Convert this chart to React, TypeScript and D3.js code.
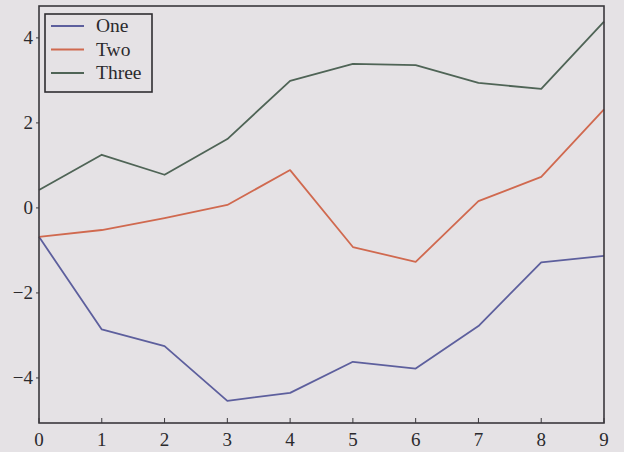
import React from "react";
import * as d3 from "d3";

// Line series, one value per x step (0..9)
const xValues = [0, 1, 2, 3, 4, 5, 6, 7, 8, 9];
const seriesNames = ["One", "Two", "Three"];
const one = [-0.68, -2.86, -3.25, -4.54, -4.35, -3.62, -3.78, -2.78, -1.28, -1.13];
const two = [-0.68, -0.52, -0.24, 0.07, 0.89, -0.92, -1.27, 0.16, 0.73, 2.32];
const three = [0.42, 1.25, 0.78, 1.62, 2.99, 3.39, 3.36, 2.94, 2.8, 4.38];
const seriesColors = ["#5d5f9d", "#d0694f", "#4f6456"];
const xTicks = [0, 1, 2, 3, 4, 5, 6, 7, 8, 9];
const yTicks = [-4, -2, 0, 2, 4];
const yDomain = [-5.06, 4.75];

const W = 624;
const H = 452;
const margin = { left: 39, right: 20, top: 6, bottom: 29 };

export default function App() {
  const x = d3.scaleLinear().domain([0, 9]).range([margin.left, W - margin.right]);
  const y = d3.scaleLinear().domain(yDomain).range([H - margin.bottom, margin.top]);
  const data = [one, two, three];
  const line = d3
    .line<number>()
    .x((_, i) => x(xValues[i]))
    .y((d) => y(d));

  const font = "'Liberation Serif', 'DejaVu Serif', serif";
  const axisColor = "#3a383c";
  const textColor = "#2b2a2d";
  const x0 = x.range()[0];
  const x1 = x.range()[1];
  const yb = y.range()[0];
  const yt = y.range()[1];

  return (
    <svg
      width={W}
      height={H}
      style={{ position: "absolute", left: 0, top: 0, background: "#e5e2e5" }}
    >
      <rect x={0} y={0} width={W} height={H} fill="#e5e2e5" />
      {data.map((d, k) => (
        <path
          key={seriesNames[k]}
          d={line(d) ?? ""}
          fill="none"
          stroke={seriesColors[k]}
          strokeWidth={1.8}
          strokeLinejoin="round"
        />
      ))}
      {/* frame */}
      <rect
        x={x0}
        y={yt}
        width={x1 - x0}
        height={yb - yt}
        fill="none"
        stroke={axisColor}
        strokeWidth={1.6}
      />
      {/* x axis ticks and labels */}
      {xTicks.map((t) => (
        <g key={"x" + t}>
          <line x1={x(t)} x2={x(t)} y1={yb} y2={yb - 5} stroke={axisColor} strokeWidth={1} />
          <text
            x={x(t)}
            y={yb + 23}
            textAnchor="middle"
            fontFamily={font}
            fontSize={19}
            fill={textColor}
          >
            {t}
          </text>
        </g>
      ))}
      {/* y axis ticks and labels */}
      {yTicks.map((t) => (
        <g key={"y" + t}>
          <line x1={x0 - 3} x2={x0} y1={y(t)} y2={y(t)} stroke={axisColor} strokeWidth={1} />
          <text
            x={x0 - 6}
            y={y(t) + 6}
            textAnchor="end"
            fontFamily={font}
            fontSize={19}
            fill={textColor}
          >
            {t < 0 ? "\u2212" + Math.abs(t) : t}
          </text>
        </g>
      ))}
      {/* legend */}
      <g>
        <rect x={45} y={14} width={107} height={78} fill="#e5e2e5" stroke="#2f2d31" strokeWidth={1.6} />
        {seriesNames.map((name, k) => (
          <g key={"lg" + name}>
            <line
              x1={51}
              x2={84}
              y1={26 + k * 23.5}
              y2={26 + k * 23.5}
              stroke={seriesColors[k]}
              strokeWidth={1.8}
            />
            <text
              x={96}
              y={26 + k * 23.5 + 6}
              fontFamily={font}
              fontSize={19.5}
              fill={textColor}
            >
              {name}
            </text>
          </g>
        ))}
      </g>
    </svg>
  );
}
